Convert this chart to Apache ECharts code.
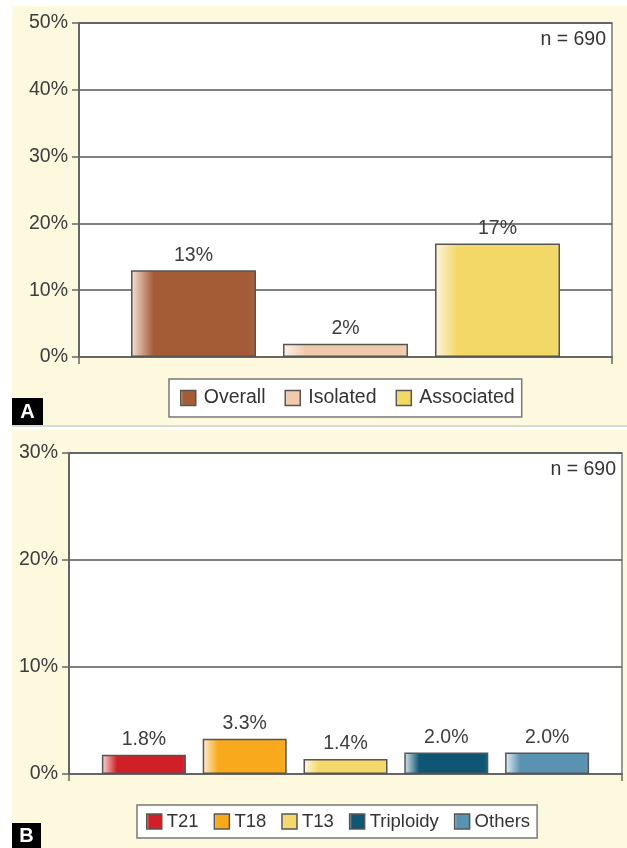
<!DOCTYPE html>
<html>
<head>
<meta charset="utf-8">
<script src="https://cdn.jsdelivr.net/npm/echarts@6/dist/echarts.min.js"></script>
<style>
html,body{margin:0;padding:0;background:#fff;}
#chart{width:627px;height:848px;}
</style>
</head>
<body>
<div id="chart"></div>
<script>
// ---- Data ----
const panelASeriesNames = ['Overall', 'Isolated', 'Associated'];
const panelAValues = [13, 2, 17];
const panelBSeriesNames = ['T21', 'T18', 'T13', 'Triploidy', 'Others'];
const panelBValues = [1.8, 3.3, 1.4, 2.0, 2.0];
const panelAYAxis = { min: 0, max: 50, interval: 10 };
const panelBYAxis = { min: 0, max: 30, interval: 10 };
const sampleNote = 'n = 690';

// ---- Styles ----
const FONT = "'Liberation Sans', Arial, sans-serif";
const panelAColors = [['#f6e4d8', '#a45c36'], ['#fcf3ec', '#f1caad'], ['#fdf6e0', '#f3d767']];
const panelBColors = [['#f8dcd8', '#d11f27'], ['#fdf0d8', '#f9aa1c'], ['#fdf8e6', '#f5d86b'], ['#dde9ef', '#0e5673'], ['#e8f0f5', '#5a93b1']];

function grad(light, main) {
  return new echarts.graphic.LinearGradient(0, 0, 1, 0, [
    { offset: 0, color: light },
    { offset: 0.18, color: main },
    { offset: 0.94, color: main },
    { offset: 1, color: echarts.color.lift(main, 0.06) }
  ]);
}

const chart = echarts.init(document.getElementById('chart'), null, { renderer: 'canvas' });

function yAxisCfg(cfg, idx) {
  return {
    type: 'value', gridIndex: idx, min: cfg.min, max: cfg.max, interval: cfg.interval,
    axisLine: { show: true, lineStyle: { color: '#666', width: 2 } },
    axisTick: { show: true, length: 7, lineStyle: { color: '#666', width: 1.5 } },
    axisLabel: { formatter: '{value}%', color: '#3c3c3c', fontSize: 19.5, fontFamily: FONT, margin: 11 },
    splitLine: { show: true, lineStyle: { color: '#555', width: 1.5 } }
  };
}
function xAxisCfg(idx) {
  return {
    type: 'category', gridIndex: idx, data: [''],
    axisLine: { show: true, lineStyle: { color: '#666', width: 2 } },
    axisTick: { show: true, length: 7, lineStyle: { color: '#666', width: 1.5 } },
    axisLabel: { show: false }
  };
}

const series = [];
panelASeriesNames.forEach((name, i) => {
  series.push({
    name: name, type: 'bar', xAxisIndex: 0, yAxisIndex: 0,
    data: [panelAValues[i]], barWidth: 125, barGap: '21.6%',
    itemStyle: { color: grad(panelAColors[i][0], panelAColors[i][1]), borderColor: '#555', borderWidth: 1.5 },
    label: { show: true, position: 'top', distance: 5, formatter: p => p.value + '%', color: '#3c3c3c', fontSize: 19.5, fontFamily: FONT }
  });
});
panelBSeriesNames.forEach((name, i) => {
  series.push({
    name: name, type: 'bar', xAxisIndex: 1, yAxisIndex: 1,
    data: [panelBValues[i]], barWidth: 84, barGap: '20%',
    itemStyle: { color: grad(panelBColors[i][0], panelBColors[i][1]), borderColor: '#555', borderWidth: 1.5 },
    label: { show: true, position: 'top', distance: 5, formatter: p => p.value.toFixed(1) + '%', color: '#3c3c3c', fontSize: 19.5, fontFamily: FONT }
  });
});

const option = {
  animation: false,
  backgroundColor: '#fff',
  grid: [
    { left: 79, right: 15, top: 23, bottom: 491, show: true, backgroundColor: '#fff', borderColor: '#777', borderWidth: 1.5 },
    { left: 69, right: 5, top: 453, bottom: 74, show: true, backgroundColor: '#fff', borderColor: '#777', borderWidth: 1.5 }
  ],
  xAxis: [xAxisCfg(0), xAxisCfg(1)],
  yAxis: [yAxisCfg(panelAYAxis, 0), yAxisCfg(panelBYAxis, 1)],
  legend: [
    {
      data: panelASeriesNames, left: 169, top: 379, orient: 'horizontal',
      icon: 'rect', itemWidth: 15, itemHeight: 15, itemGap: 19,
      padding: [9, 7, 9, 11],
      backgroundColor: '#fff', borderColor: '#777', borderWidth: 1.5,
      itemStyle: { borderColor: '#555', borderWidth: 1.5 },
      textStyle: { color: '#333', fontSize: 19.5, fontFamily: FONT, padding: [0, 0, 0, 3] }
    },
    {
      data: panelBSeriesNames, left: 137, top: 805, orient: 'horizontal',
      icon: 'rect', itemWidth: 15, itemHeight: 15, itemGap: 15,
      padding: [7, 7, 7, 9],
      backgroundColor: '#fff', borderColor: '#777', borderWidth: 1.5,
      itemStyle: { borderColor: '#555', borderWidth: 1.5 },
      textStyle: { color: '#333', fontSize: 18.5, fontFamily: FONT, padding: [0, 0, 0, 0] }
    }
  ],
  graphic: [
    { type: 'rect', z: -10, silent: true, shape: { x: 12, y: 6, width: 615, height: 419 }, style: { fill: '#fdf9df' } },
    { type: 'rect', z: -10, silent: true, shape: { x: 12, y: 425, width: 615, height: 2 }, style: { fill: '#d9d9d2' } },
    { type: 'rect', z: -10, silent: true, shape: { x: 12, y: 430, width: 615, height: 418 }, style: { fill: '#fdf9df' } },
    { type: 'rect', z: 10, silent: true, shape: { x: 12, y: 398, width: 31, height: 27 }, style: { fill: '#000' } },
    { type: 'text', z: 11, silent: true, style: { x: 27.5, y: 412, text: 'A', fill: '#fff', font: "bold 20px 'Liberation Sans', Arial", textAlign: 'center', textVerticalAlign: 'middle' } },
    { type: 'rect', z: 10, silent: true, shape: { x: 12, y: 823, width: 29, height: 25 }, style: { fill: '#000' } },
    { type: 'text', z: 11, silent: true, style: { x: 26.5, y: 836, text: 'B', fill: '#fff', font: "bold 20px 'Liberation Sans', Arial", textAlign: 'center', textVerticalAlign: 'middle' } },
    { type: 'text', z: 11, silent: true, style: { x: 606, y: 30, text: sampleNote, fill: '#333', font: "19.5px 'Liberation Sans', Arial", textAlign: 'right', textVerticalAlign: 'top' } },
    { type: 'text', z: 11, silent: true, style: { x: 616, y: 460, text: sampleNote, fill: '#333', font: "19.5px 'Liberation Sans', Arial", textAlign: 'right', textVerticalAlign: 'top' } }
  ],
  series: series
};
chart.setOption(option);
</script>
</body>
</html>
